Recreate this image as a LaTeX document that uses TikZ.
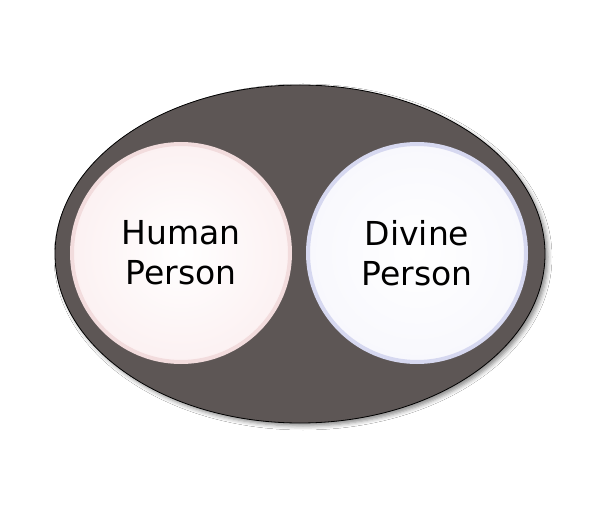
\documentclass[tikz,border=0pt]{standalone}
\usepackage{fontspec}
\setmainfont{DejaVu Sans}
\usetikzlibrary{shadows.blur,shapes.geometric}
\definecolor{outerfill}{HTML}{5D5655}
\definecolor{pinkring}{HTML}{F2DCDD}
\definecolor{pinkfill}{HTML}{FCF1F2}
\definecolor{bluering}{HTML}{D6D8F0}
\definecolor{bluefill}{HTML}{F8F8FD}
\tikzset{
  outer/.style={ellipse, draw=black, line width=0.8pt, fill=outerfill, minimum width=490pt, minimum height=338pt, inner sep=0pt,
    blur shadow={shadow xshift=3pt, shadow yshift=-3pt, shadow blur radius=4pt, shadow opacity=45}},
  person/.style={circle, minimum size=218pt, inner sep=0pt, line width=4pt, align=center,
    font=\fontsize{33}{40}\selectfont},
}
\begin{document}
\begin{tikzpicture}[x=1pt,y=1pt]
\useasboundingbox (0,0) rectangle (599,509);
\fill[white] (0,0) rectangle (599,509);
\node[outer] (whole) at (300,255) {};
\node[person, draw=pinkring, inner color=white, outer color=pinkfill] (human) at (181,256) {Human\\Person};
\node[person, draw=bluering, inner color=white, outer color=bluefill] (divine) at (417,256) {Divine\\Person};
\end{tikzpicture}
\end{document}
